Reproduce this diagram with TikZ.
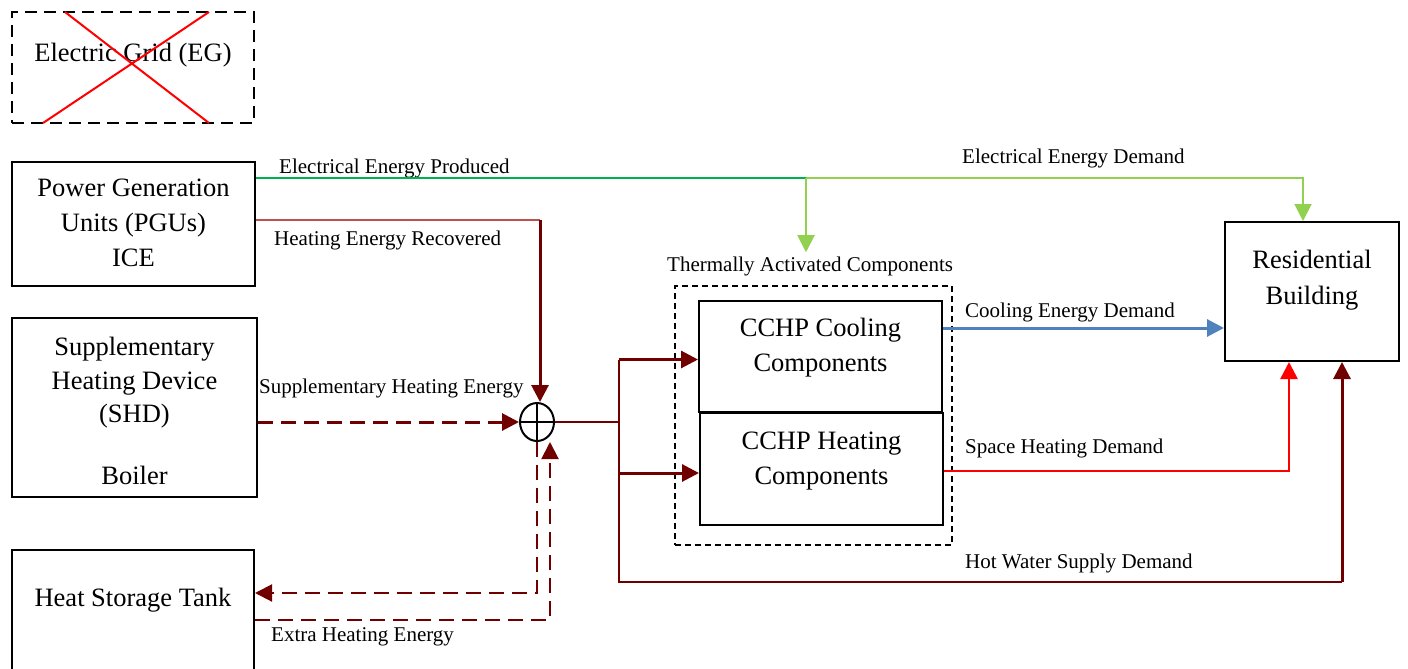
\documentclass[tikz,border=0pt]{standalone}
\usepackage{fontspec}
\setmainfont{Liberation Serif}
\usetikzlibrary{arrows.meta,positioning,calc,shapes.geometric}
\definecolor{elecProd}{RGB}{0,176,80}
\definecolor{elecDem}{RGB}{146,208,80}
\definecolor{recovHeat}{RGB}{192,80,77}
\definecolor{heatDark}{RGB}{112,0,0}
\definecolor{coolBlue}{RGB}{79,129,189}
\definecolor{spaceRed}{RGB}{255,0,0}

\begin{document}
\begin{tikzpicture}[x=1pt,y=-1pt,
  box/.style={draw,line width=2pt,inner sep=0pt},
  big/.style={font=\fontsize{26.5}{35}\selectfont,align=center,inner sep=0pt},
  lab/.style={font=\fontsize{21}{24}\selectfont,anchor=base west,inner sep=0pt},
  tip/.style={-{Triangle[length=17pt,width=17pt]}},
  dashline/.style={dash pattern=on 15pt off 8pt}]
 \useasboundingbox (0,0) rectangle (1408,669);
 % sources on the left
 \node[box,dash pattern=on 12pt off 7pt,minimum width=242pt,minimum height=111pt] (eg) at (133,67.5) {};
 \node[big] (eg-txt) at (133,55) {Electric Grid (EG)};
 \draw[spaceRed,line width=2pt] (65,12) -- (209,123) (43,123) -- (209,12);
 \node[box,minimum width=243pt,minimum height=124pt] (pgu) at (133.5,224) {};
 \node[big] (pgu-txt) at (133.5,223) {Power Generation\\Units (PGUs)\\ICE};
 \node[box,minimum width=245pt,minimum height=179pt] (shd) at (134.5,407.5) {};
 \node[big,font=\fontsize{26.5}{33.5}\selectfont] (shd-txt) at (134.5,411)
   {Supplementary\\Heating Device\\(SHD)\\[28pt]Boiler};
 \node[box,minimum width=242pt,minimum height=160pt] (tank) at (133,630) {};
 \node[big] (tank-txt) at (133,600) {Heat Storage Tank};
 % thermally activated components
 \node[draw,line width=1.8pt,dash pattern=on 6pt off 4pt,minimum width=277pt,minimum height=259pt] (tac) at (813.5,415.5) {};
 \node[box,minimum width=243pt,minimum height=111pt] (cool) at (820.5,356.5) {};
 \node[big] (cool-txt) at (820.5,348) {CCHP Cooling\\Components};
 \node[box,minimum width=243pt,minimum height=112pt] (heat) at (821.5,469) {};
 \node[big] (heat-txt) at (821.5,461) {CCHP Heating\\Components};
 \node[box,minimum width=174pt,minimum height=139pt] (bldg) at (1312,291.5) {};
 \node[big,font=\fontsize{26.5}{36}\selectfont] (bldg-txt) at (1312,280.5) {Residential\\Building};
 % mixing point
 \node[draw,ellipse,line width=2pt,minimum width=34pt,minimum height=38pt,inner sep=0pt] (sum) at (537,422) {};
 \draw[line width=2pt] (sum.north) -- (sum.south) (sum.west) -- (sum.east);
 % labels
 \node[lab] (l-eprod) at (279,173) {Electrical Energy Produced};
 \node[lab] (l-erec) at (274,245) {Heating Energy Recovered};
 \node[lab] (l-supp) at (259,393) {Supplementary Heating Energy};
 \node[lab] (l-extra) at (271,641) {Extra Heating Energy};
 \node[lab] (l-tac) at (667,271) {Thermally Activated Components};
 \node[lab] (l-edem) at (962,163) {Electrical Energy Demand};
 \node[lab] (l-cool) at (965,317) {Cooling Energy Demand};
 \node[lab] (l-space) at (965,453) {Space Heating Demand};
 \node[lab] (l-hot) at (965,568) {Hot Water Supply Demand};
 % electrical energy
 \coordinate (esplit) at (806,178);
 \draw[elecProd,line width=2pt] (pgu.east |- esplit) -- (esplit);
 \draw[elecDem,line width=2pt,tip] (esplit) -- ([yshift=4pt]esplit |- l-tac.north);
 \draw[elecDem,line width=2pt,tip] (esplit) -| ([xshift=-9pt]bldg.north);
 % recovered heat
 \coordinate (rcorner) at (540,220);
 \draw[recovHeat,line width=2pt] (pgu.east |- rcorner) -- (rcorner);
 \draw[heatDark,line width=3pt,tip] (rcorner) -- (rcorner |- sum.north);
 \draw[heatDark,line width=3pt,dashline,tip] (shd.east |- sum) -- (sum.west);
 % heat to the components and the building
 \coordinate (hsplit) at (619,422);
 \coordinate (cin) at ([yshift=-3pt]cool.west);
 \coordinate (hin) at ([yshift=-4pt]heat.west);
 \coordinate (hwcorner) at (619,582);
 \coordinate (hwup) at ([xshift=30pt]bldg.south);
 \draw[heatDark,line width=2pt] (sum.east) -- (hsplit);
 \draw[heatDark,line width=2pt] (hsplit |- cin) -- (hwcorner) -- (hwcorner -| hwup);
 \draw[heatDark,line width=3pt,tip] (hsplit |- cin) -- (cin);
 \draw[heatDark,line width=3pt,tip] (hsplit |- hin) -- (hin);
 \draw[heatDark,line width=3pt,tip] (hwcorner -| hwup) -- (hwup);
 % demands
 \coordinate (cout) at ([yshift=28.5pt]cool.east);
 \draw[coolBlue,line width=3pt,tip] (cout) -- (cout -| bldg.west);
 \coordinate (sout) at ([yshift=-2pt]heat.east);
 \draw[spaceRed,line width=2.5pt,tip] (sout) -| ([xshift=-23pt]bldg.south);
 % storage loop
 \coordinate (xout) at (tank.east |- 0,593);
 \coordinate (xin) at (tank.east |- 0,620);
 \draw[heatDark,line width=2pt,dashline,tip] (sum.south) |- (xout);
 \draw[heatDark,line width=2pt,dashline,tip] (xin) -| ([xshift=13pt]sum.south);
\end{tikzpicture}
\end{document}
